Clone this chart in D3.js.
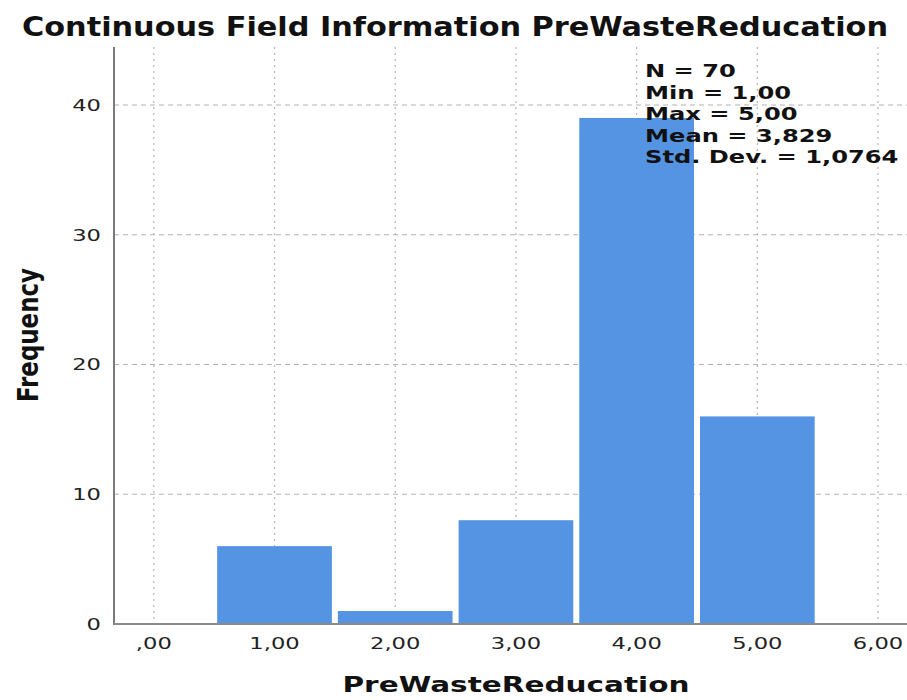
<!DOCTYPE html>
<html>
<head>
<meta charset="utf-8">
<script src="https://cdn.jsdelivr.net/npm/d3@7"></script>
<style>
  html, body { margin: 0; padding: 0; background: #fff; }
  svg { display: block; }
</style>
</head>
<body>
<svg id="chart" width="907" height="700"></svg>
<script>
// ---- data ----
const binCenters = [1, 2, 3, 4, 5];
const frequencies = [6, 1, 8, 39, 16];
const xTicks = [0, 1, 2, 3, 4, 5, 6];
const xTickLabels = [",00", "1,00", "2,00", "3,00", "4,00", "5,00", "6,00"];
const yTicks = [0, 10, 20, 30, 40];
const statsLines = ["N = 70", "Min = 1,00", "Max = 5,00", "Mean = 3,829", "Std. Dev. = 1,0764"];
const titleText = "Continuous Field Information PreWasteReducation";
const xLabelText = "PreWasteReducation";
const yLabelText = "Frequency";

// ---- layout ----
const plotLeft = 114, plotRight = 907, plotTop = 47, plotBottom = 624;
const stretch = 1.37;
const svg = d3.select("#chart");

const x = d3.scaleLinear().domain([-0.33, 6.24]).range([plotLeft, plotRight]);
const y = d3.scaleLinear().domain([0, 44.47]).range([plotBottom, plotTop]);

function widen(sel, f) {
  sel.each(function () {
    const len = this.getComputedTextLength();
    d3.select(this).attr("textLength", len * f).attr("lengthAdjust", "spacingAndGlyphs");
  });
}

// grid lines
svg.append("g").selectAll("line").data(yTicks.filter(d => d > 0)).join("line")
  .attr("x1", plotLeft).attr("x2", plotRight)
  .attr("y1", d => y(d)).attr("y2", d => y(d))
  .attr("stroke", "#b4b4b4").attr("stroke-width", 1.2).attr("stroke-dasharray", "5,4");

svg.append("g").selectAll("line").data(xTicks).join("line")
  .attr("x1", d => x(d)).attr("x2", d => x(d))
  .attr("y1", plotTop).attr("y2", plotBottom)
  .attr("stroke", "#b4b4b4").attr("stroke-width", 1.2).attr("stroke-dasharray", "2,4");

// bars
const inset = 3;
svg.append("g").selectAll("rect").data(binCenters).join("rect")
  .attr("x", d => x(d - 0.5) + inset)
  .attr("width", d => x(d + 0.5) - x(d - 0.5) - 2 * inset)
  .attr("y", (d, i) => y(frequencies[i]))
  .attr("height", (d, i) => plotBottom - y(frequencies[i]))
  .attr("fill", "#5494e3");

// axes lines
svg.append("line").attr("x1", plotLeft).attr("x2", plotLeft).attr("y1", plotTop).attr("y2", plotBottom + 1)
  .attr("stroke", "#7a7a7a").attr("stroke-width", 2);
svg.append("line").attr("x1", plotLeft).attr("x2", plotRight).attr("y1", plotBottom).attr("y2", plotBottom)
  .attr("stroke", "#8a8a8a").attr("stroke-width", 2);

// y tick labels
const yl = svg.append("g").selectAll("text").data(yTicks).join("text")
  .attr("x", 101).attr("y", d => y(d) + 6)
  .attr("text-anchor", "end")
  .attr("font-family", "DejaVu Sans").attr("font-size", 16.5).attr("fill", "#222")
  .text(d => d);
widen(yl, stretch);

// x tick labels
const xl = svg.append("g").selectAll("text").data(xTicks).join("text")
  .attr("x", d => x(d)).attr("y", 649)
  .attr("text-anchor", "middle")
  .attr("font-family", "DejaVu Sans").attr("font-size", 16.5).attr("fill", "#222")
  .text((d, i) => xTickLabels[i]);
widen(xl, stretch);

// title
svg.append("text").attr("x", 455).attr("y", 36).attr("text-anchor", "middle")
  .attr("font-family", "DejaVu Sans Condensed, DejaVu Sans").attr("font-weight", "bold").attr("font-size", 27)
  .attr("fill", "#111")
  .attr("textLength", 866).attr("lengthAdjust", "spacingAndGlyphs")
  .text(titleText);

// x label
svg.append("text").attr("x", 516).attr("y", 692).attr("text-anchor", "middle")
  .attr("font-family", "DejaVu Sans").attr("font-weight", "bold").attr("font-size", 22)
  .attr("fill", "#111")
  .attr("textLength", 347).attr("lengthAdjust", "spacingAndGlyphs")
  .text(xLabelText);

// y label
svg.append("text").attr("transform", "translate(38,335) rotate(-90)").attr("text-anchor", "middle")
  .attr("font-family", "DejaVu Sans Condensed, DejaVu Sans").attr("font-weight", "bold").attr("font-size", 28)
  .attr("fill", "#111")
  .attr("textLength", 134).attr("lengthAdjust", "spacingAndGlyphs")
  .text(yLabelText);

// stats
const st = svg.append("g").selectAll("text").data(statsLines).join("text")
  .attr("x", 645).attr("y", (d, i) => 77 + i * 21.5)
  .attr("font-family", "DejaVu Sans").attr("font-weight", "bold").attr("font-size", 17.5)
  .attr("fill", "#111")
  .text(d => d);
widen(st, 1.38);
</script>
</body>
</html>
